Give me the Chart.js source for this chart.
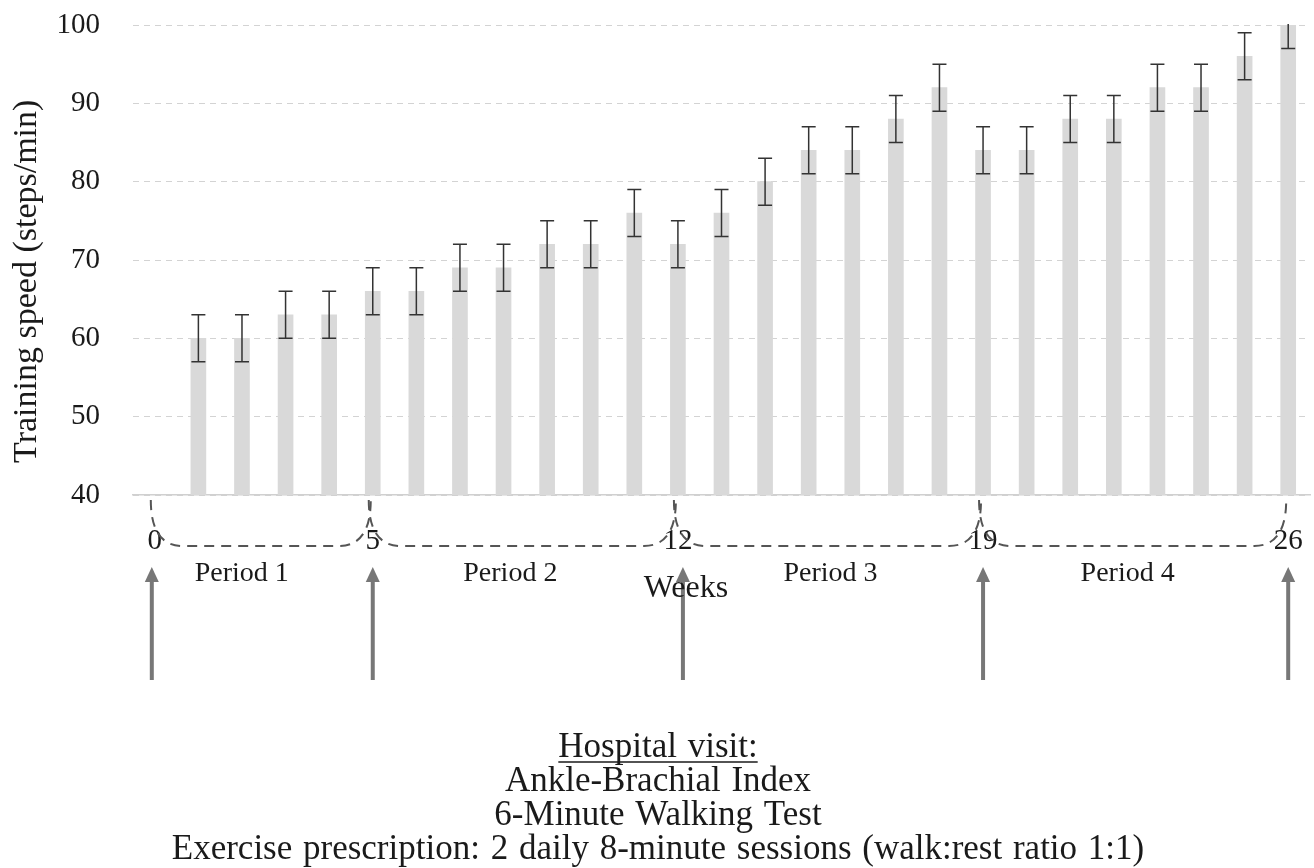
<!DOCTYPE html>
<html>
<head>
<meta charset="utf-8">
<script src="https://cdn.jsdelivr.net/npm/chart.js@4.4.1/dist/chart.umd.min.js"></script>
<style>
  html, body { margin: 0; padding: 0; background: #fff; }
  #wrap { width: 1314px; height: 868px; }
</style>
</head>
<body>
<div id="wrap"><canvas id="chart"></canvas></div>
<script>
// weeks 0..26, no training bar at week 0
const weeks = ['0', '1', '2', '3', '4', '5', '6', '7', '8', '9', '10', '11', '12', '13',
               '14', '15', '16', '17', '18', '19', '20', '21', '22', '23', '24', '25', '26'];
const trainingSpeed = [null, 60, 60, 63, 63, 66, 66, 69, 69, 72, 72, 76, 72, 76,
                       80, 84, 84, 88, 92, 84, 84, 88, 88, 92, 92, 96, 100];
const speedError = [null, 3, 3, 3, 3, 3, 3, 3, 3, 3, 3, 3, 3, 3,
                    3, 3, 3, 3, 3, 3, 3, 3, 3, 3, 3, 3, 3];
const visitWeeks = [0, 5, 12, 19, 26];
const periodNames = ['Period 1', 'Period 2', 'Period 3', 'Period 4'];
const visitNotes = [
  'Hospital visit:',
  'Ankle-Brachial Index',
  '6-Minute Walking Test',
  'Exercise prescription: 2 daily 8-minute sessions (walk:rest ratio 1:1)'
];

const FONT = "'Liberation Serif', 'Times New Roman', serif";
const TEXT = '#1a1a1a';

// error bars drawn on top of the bars, clipped to the plot area
const errorBars = {
  id: 'errorBars',
  afterDatasetsDraw(chart) {
    const { ctx, chartArea, scales: { y } } = chart;
    const meta = chart.getDatasetMeta(0);
    ctx.save();
    ctx.beginPath();
    ctx.rect(chartArea.left, chartArea.top - 1, chartArea.right - chartArea.left, chartArea.bottom - chartArea.top);
    ctx.clip();
    ctx.strokeStyle = '#333';
    ctx.lineWidth = 1.5;
    meta.data.forEach((bar, i) => {
      const v = trainingSpeed[i];
      if (v == null) return;
      const top = y.getPixelForValue(v + speedError[i]);
      const bot = y.getPixelForValue(v - speedError[i]);
      ctx.beginPath();
      ctx.moveTo(bar.x, top); ctx.lineTo(bar.x, bot);
      ctx.moveTo(bar.x - 7, top); ctx.lineTo(bar.x + 7, top);
      ctx.moveTo(bar.x - 7, bot); ctx.lineTo(bar.x + 7, bot);
      ctx.stroke();
    });
    ctx.restore();
  }
};

// period braces, visit arrows and the notes under the chart
const annotations = {
  id: 'annotations',
  afterDraw(chart) {
    const { ctx, scales: { x } } = chart;
    const topY = 500, lineY = 546, curve = 32;
    ctx.save();

    // dashed braces between visits
    ctx.strokeStyle = '#555';
    ctx.lineWidth = 2;
    ctx.setLineDash([10, 7]);
    for (let p = 0; p < visitWeeks.length - 1; p++) {
      const xa = x.getPixelForValue(visitWeeks[p]) - 4;
      const xb = x.getPixelForValue(visitWeeks[p + 1]) - 2;
      ctx.beginPath();
      ctx.moveTo(xa, topY);
      ctx.quadraticCurveTo(xa, lineY, xa + curve, lineY);
      ctx.lineTo(xb - curve, lineY);
      ctx.quadraticCurveTo(xb, lineY, xb, topY);
      ctx.stroke();
    }
    ctx.setLineDash([]);

    // period names, nudged a little left of the span middle
    const nudge = [-22, -15, 0, -8];
    ctx.fillStyle = TEXT;
    ctx.font = `28px ${FONT}`;
    ctx.textAlign = 'center';
    ctx.textBaseline = 'middle';
    periodNames.forEach((name, p) => {
      const mid = (visitWeeks[p] + visitWeeks[p + 1]) / 2;
      ctx.fillText(name, x.getPixelForValue(mid) + nudge[p], 574);
    });

    // arrows at each hospital visit
    ctx.strokeStyle = '#777';
    ctx.fillStyle = '#777';
    ctx.lineWidth = 4;
    visitWeeks.forEach(w => {
      const px = x.getPixelForValue(w) + (w === 12 ? 5 : 0) - (w === 0 ? 3 : 0);
      ctx.beginPath();
      ctx.moveTo(px, 680); ctx.lineTo(px, 580);
      ctx.stroke();
      ctx.beginPath();
      ctx.moveTo(px, 567); ctx.lineTo(px - 7, 582); ctx.lineTo(px + 7, 582);
      ctx.closePath();
      ctx.fill();
    });

    // axis title
    ctx.fillStyle = TEXT;
    ctx.font = `32px ${FONT}`;
    ctx.fillText('Weeks', x.getPixelForValue(12) + 8, 589);

    // notes
    const cx = 658;
    ctx.font = `35px ${FONT}`;
    ctx.wordSpacing = '2px';
    ctx.textBaseline = 'alphabetic';
    visitNotes.forEach((line, i) => {
      ctx.fillText(line, cx, 757 + i * 34);
    });
    const w0 = ctx.measureText(visitNotes[0]).width;
    ctx.strokeStyle = TEXT;
    ctx.lineWidth = 1.5;
    ctx.beginPath();
    ctx.moveTo(cx - w0 / 2, 762); ctx.lineTo(cx + w0 / 2, 762);
    ctx.stroke();

    ctx.restore();
  }
};

const ctx = document.getElementById('chart').getContext('2d');
new Chart(ctx, {
  type: 'bar',
  data: {
    labels: weeks,
    datasets: [{
      label: 'Training speed',
      data: trainingSpeed,
      backgroundColor: '#d9d9d9',
      barThickness: 15
    }]
  },
  options: {
    responsive: true,
    maintainAspectRatio: false,
    animation: false,
    layout: { padding: { top: 25, right: 4, left: 0, bottom: 0 } },
    plugins: {
      legend: { display: false },
      tooltip: { enabled: false }
    },
    scales: {
      x: {
        grid: { display: false, drawTicks: false },
        border: { display: true, color: '#d0d0d0', width: 1.5 },
        ticks: {
          autoSkip: false,
          maxRotation: 0,
          padding: 29,
          color: TEXT,
          font: { family: FONT, size: 29 },
          callback: (val, i) => visitWeeks.includes(i) ? weeks[i] : ''
        },
        afterFit: s => { s.height = 373; s.paddingLeft = 0; s.paddingRight = 0; }
      },
      y: {
        min: 40,
        max: 100,
        grid: { color: '#d3d3d3', lineWidth: 1, drawTicks: false },
        border: { display: false, dash: [6, 5] },
        ticks: {
          stepSize: 10,
          padding: 33,
          color: TEXT,
          font: { family: FONT, size: 29 }
        },
        title: {
          display: true,
          text: 'Training speed (steps/min)     ',
          color: TEXT,
          font: { family: FONT, size: 34 },
          padding: { top: 7, bottom: 0 }
        },
        afterFit: s => { s.width = 133; s.paddingTop = 0; s.paddingBottom = 0; }
      }
    }
  },
  plugins: [errorBars, annotations]
});
</script>
</body>
</html>
